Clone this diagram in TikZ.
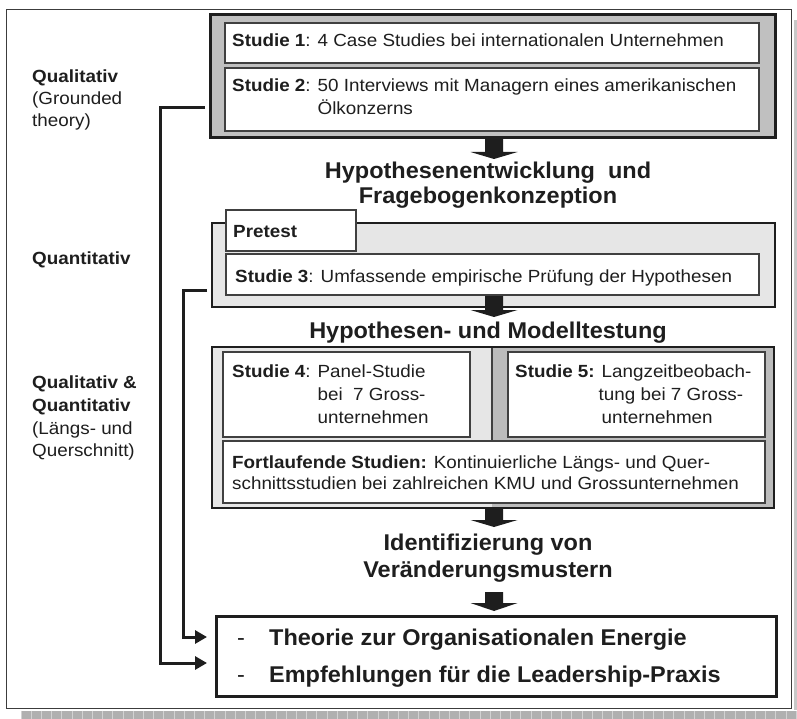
\documentclass[tikz,border=0pt]{standalone}
\usepackage{fontspec}
\setmainfont{Liberation Sans}
\newfontfamily\bodyf{Liberation Sans}[FakeStretch=1.07]
\newfontfamily\headf{Liberation Sans}[FakeStretch=1.03]
\usetikzlibrary{arrows.meta}
\definecolor{midgray}{RGB}{192,192,192}
\definecolor{lightgray2}{RGB}{230,230,230}
\definecolor{darkgray2}{RGB}{188,188,188}
\definecolor{ink}{RGB}{30,30,30}
\definecolor{framec}{RGB}{60,60,60}
\definecolor{stripgray}{RGB}{176,176,176}
\definecolor{stripline}{RGB}{210,210,210}
\newcommand{\blkarrow}[4]{\fill[arrowc] (#1-9,#2) -- (#1+9,#2) -- (#1+9,#3) -- (#1+23.5,#3) -- (#1,#4) -- (#1-23.5,#3) -- (#1-9,#3) -- cycle;}
\begin{document}
\begin{tikzpicture}[x=1pt,y=-1pt,
  box/.style={draw=ink!85, line width=1.1pt, fill=white, inner sep=0pt, outer sep=0pt, anchor=north west},
  bigbox/.style={box, line width=2.5pt, draw=ink},
  txt/.style={font=\bodyf\fontsize{17.6}{21}\selectfont, inner sep=0pt, anchor=base west, text=ink},
  head/.style={font=\headf\bfseries\fontsize{22.8}{27}\selectfont, inner sep=0pt, anchor=base, text=ink},
  headl/.style={head, anchor=base west},
  dashtxt/.style={font=\headf\fontsize{22.8}{27}\selectfont, inner sep=0pt, anchor=base west, text=ink},
  conn/.style={line width=3pt, draw=ink, line join=miter, -{Triangle[length=12pt,width=13pt]}, shorten <=5pt, shorten >=9pt},
  arrowc/.style={fill=ink}
]
\useasboundingbox (0,0) rectangle (797,719);
\fill[white] (0,0) rectangle (797,719);
% outer frame and shadow strips
\node[draw=framec, line width=1.2pt, minimum width=785pt, minimum height=699pt, anchor=north west, inner sep=0pt] (frame) at (6,9) {};
\fill[stripgray] (21,710.5) rectangle (797,719);
\fill[stripgray!70] (794,20) rectangle (797,710);
\foreach \i in {0,...,76} \draw[stripline, line width=0.8pt] (21+\i*10.2,710.5) -- ++(0,8.5);

% top group
\node[bigbox, fill=midgray, line width=3pt, minimum width=565pt, minimum height=123pt] (top) at (210,15) {};
\node[box, minimum width=534pt, minimum height=40pt] (b1) at (225,23) {};
\node[box, minimum width=534pt, minimum height=63pt] (b2) at (225,68) {};
\node[txt] (s1) at (232,47) {\textbf{Studie 1}: 4 Case Studies bei internationalen Unternehmen};
\node[txt] (s2a) at (232,92) {\textbf{Studie 2}: 50 Interviews mit Managern eines amerikanischen};
\node[txt] (s2b) at (232,115) {\phantom{\textbf{Studie 2}: }Ölkonzerns};

\blkarrow{494}{139}{152}{159}
\node[head] (h1a) at (488,179) {Hypothesenentwicklung~ und};
\node[head] (h1b) at (488,204) {Fragebogenkonzeption};

% second group
\node[bigbox, fill=lightgray2, minimum width=563pt, minimum height=84pt] (c2) at (212,223) {};
\node[box, minimum width=130pt, minimum height=41pt] (pbox) at (226,210) {};
\node[box, minimum width=533pt, minimum height=41pt] (b3) at (226,254) {};
\node[txt] (pre) at (233,238) {\textbf{Pretest}};
\node[txt] (s3) at (235,282) {\textbf{Studie 3}: Umfassende empirische Prüfung der Hypothesen};

\blkarrow{494}{296}{310}{317}
\node[head] (h2) at (488,338) {Hypothesen- und Modelltestung};

% third group
\node[box, draw=none, fill=lightgray2, minimum width=562pt, minimum height=161pt] (c3) at (212,347) {};
\fill[darkgray2] (492,347) rectangle (774,508);
\draw[ink, line width=2.5pt] (c3.north west) rectangle (c3.south east);
\draw[ink!85, line width=1.5pt] (492,348) -- (492,441);
\node[box, minimum width=247pt, minimum height=85pt] (b4) at (223,352) {};
\node[box, minimum width=257pt, minimum height=85pt] (b5) at (508,352) {};
\node[box, minimum width=542pt, minimum height=62pt] (bf) at (223,441) {};
\node[txt] (s4a) at (232,377) {\textbf{Studie 4}: Panel-Studie};
\node[txt] (s4b) at (232,400) {\phantom{\textbf{Studie 4}: }bei~ 7 Gross-};
\node[txt] (s4c) at (232,423) {\phantom{\textbf{Studie 4}: }unternehmen};
\node[txt] (s5a) at (515,377) {\textbf{Studie 5:} Langzeitbeobach-};
\node[txt] (s5b) at (512,400) {\phantom{\textbf{Studie 5:} }tung bei 7 Gross-};
\node[txt] (s5c) at (515,423) {\phantom{\textbf{Studie 5:} }unternehmen};
\node[txt] (f1) at (232,468) {\textbf{Fortlaufende Studien:} Kontinuierliche Längs- und Quer-};
\node[txt] (f2) at (232,489) {schnittsstudien bei zahlreichen KMU und Grossunternehmen};

\blkarrow{494}{508}{520}{527}
\node[head] (h3a) at (488,550) {Identifizierung von};
\node[head] (h3b) at (488,577) {Veränderungsmustern};
\blkarrow{494}{592}{603}{611}

% final box
\node[bigbox, line width=3pt, minimum width=560pt, minimum height=80pt] (final) at (216,616) {};
\node[dashtxt] (d1) at (237,645) {-};
\node[headl] (r1) at (269,645) {Theorie zur Organisationalen Energie};
\node[dashtxt] (d2) at (237,682) {-};
\node[headl] (r2) at (269,682) {Empfehlungen für die Leadership-Praxis};

% left labels
\node[txt] (l1) at (32,83) {\textbf{Qualitativ}};
\node[txt] (l2) at (32,105) {(Grounded};
\node[txt] (l3) at (32,127) {theory)};
\node[txt] (l4) at (32,264) {\textbf{Quantitativ}};
\node[txt] (l5) at (32,388) {\textbf{Qualitativ \&}};
\node[txt] (l6) at (32,411) {\textbf{Quantitativ}};
\node[txt] (l7) at (32,434) {(Längs- und};
\node[txt] (l8) at (32,456) {Querschnitt)};

% connectors
\coordinate (ka) at (160,108);
\coordinate (kb) at (160,663);
\coordinate (kc) at (183,290);
\coordinate (kd) at (183,637);
\draw[conn] (top.west |- ka) -- (ka) -- (kb) -- (final.west |- kb);
\draw[conn] (c2.west |- kc) -- (kc) -- (kd) -- (final.west |- kd);
\end{tikzpicture}
\end{document}
